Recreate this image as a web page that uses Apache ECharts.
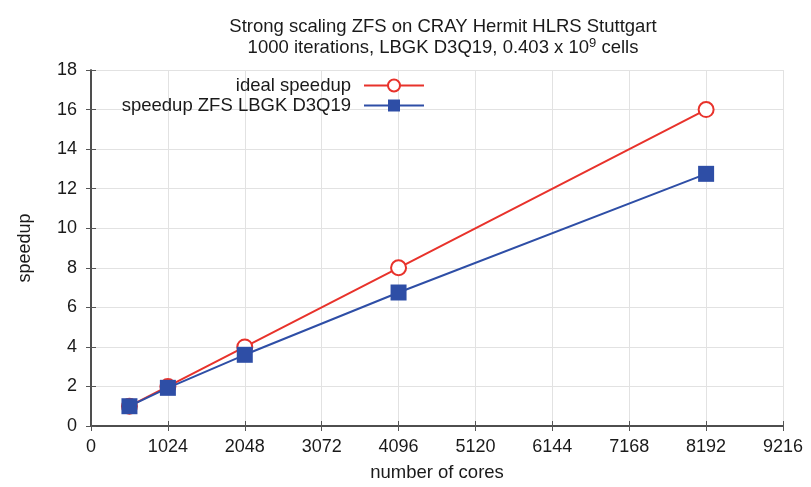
<!DOCTYPE html>
<html><head><meta charset="utf-8">
<script src="https://cdn.jsdelivr.net/npm/echarts@6/dist/echarts.min.js"></script>
<style>html,body{margin:0;padding:0;background:#fff}#c{width:811px;height:487px}</style>
</head><body><div id="c"></div>
<script>
const cores = [512, 1024, 2048, 4096, 8192];
const idealSpeedup = [1, 2, 4, 8, 16];
const zfsSpeedup = [1, 1.93, 3.6, 6.75, 12.75];
const xTicks = [0, 1024, 2048, 3072, 4096, 5120, 6144, 7168, 8192, 9216];
const yTicks = [0, 2, 4, 6, 8, 10, 12, 14, 16, 18];

const font = 'Liberation Sans, Arial, sans-serif';
const txt = '#1a1a1a';
const chart = echarts.init(document.getElementById('c'));
const axisCommon = {
  axisLine: {show: true, lineStyle: {color: '#444', width: 1.5}},
  axisTick: {show: true, inside: true, length: 5, lineStyle: {color: '#555'}},
};
chart.setOption({
  animation: false,
  textStyle: {fontFamily: font},
  title: {
    text: 'Strong scaling ZFS on CRAY Hermit HLRS Stuttgart\n1000 iterations, LBGK D3Q19, 0.403 x 10{sup|9} cells',
    left: 438, top: 11, textAlign: 'center',
    textStyle: {fontSize: 18.5, fontWeight: 'normal', color: txt, lineHeight: 21, fontFamily: font,
      rich: {sup: {fontSize: 13, verticalAlign: 'top', lineHeight: 12, padding: [0,0,9,0], color: txt, fontFamily: font}}}
  },
  legend: {
    orient: 'vertical', right: 381, top: 71, align: 'right',
    itemWidth: 60, itemHeight: 15, itemGap: 1,
    textStyle: {fontSize: 18.5, lineHeight: 19, color: txt, fontFamily: font, padding: [0, 8, 0, 0]},
    data: ['ideal speedup', 'speedup ZFS LBGK D3Q19']
  },
  grid: {left: 91, right: 28, top: 70, bottom: 60},
  xAxis: [{
    type: 'value', min: 0, max: 9216, interval: 1024,
    name: 'number of cores', nameLocation: 'middle', nameGap: 37,
    nameTextStyle: {fontSize: 18.5, color: txt, fontFamily: font},
    axisLabel: {fontSize: 18, color: txt, margin: 12, fontFamily: font,
      formatter: v => xTicks.includes(v) ? String(v) : ''},
    splitLine: {show: true, lineStyle: {color: '#e2e2e2', width: 1}},
    ...axisCommon
  }, {
    type: 'value', position: 'top', min: 0, max: 9216, interval: 1024,
    axisLabel: {show: false}, splitLine: {show: false}, ...axisCommon
  }],
  yAxis: [{
    type: 'value', min: 0, max: 18, interval: 2,
    name: 'speedup', nameLocation: 'middle', nameGap: 57, nameRotate: 90,
    nameTextStyle: {fontSize: 18, color: txt, fontFamily: font},
    axisLabel: {fontSize: 18, color: txt, margin: 14, fontFamily: font,
      formatter: v => yTicks.includes(v) ? String(v) : ''},
    splitLine: {show: true, lineStyle: {color: '#e2e2e2', width: 1}},
    ...axisCommon
  }, {
    type: 'value', position: 'right', min: 0, max: 18, interval: 2,
    axisLabel: {show: false}, splitLine: {show: false}, ...axisCommon
  }],
  series: [{
    name: 'ideal speedup', type: 'line',
    data: cores.map((c, i) => [c, idealSpeedup[i]]),
    symbol: 'circle', symbolSize: 15,
    itemStyle: {color: '#fff', borderColor: '#e8322b', borderWidth: 2},
    lineStyle: {color: '#e8322b', width: 2},
    z: 2
  }, {
    name: 'speedup ZFS LBGK D3Q19', type: 'line',
    data: cores.map((c, i) => [c, zfsSpeedup[i]]),
    symbol: 'rect', symbolSize: 16,
    itemStyle: {color: '#2e4ea6'},
    lineStyle: {color: '#2e4ea6', width: 2},
    z: 3
  }]
});
</script></body></html>
